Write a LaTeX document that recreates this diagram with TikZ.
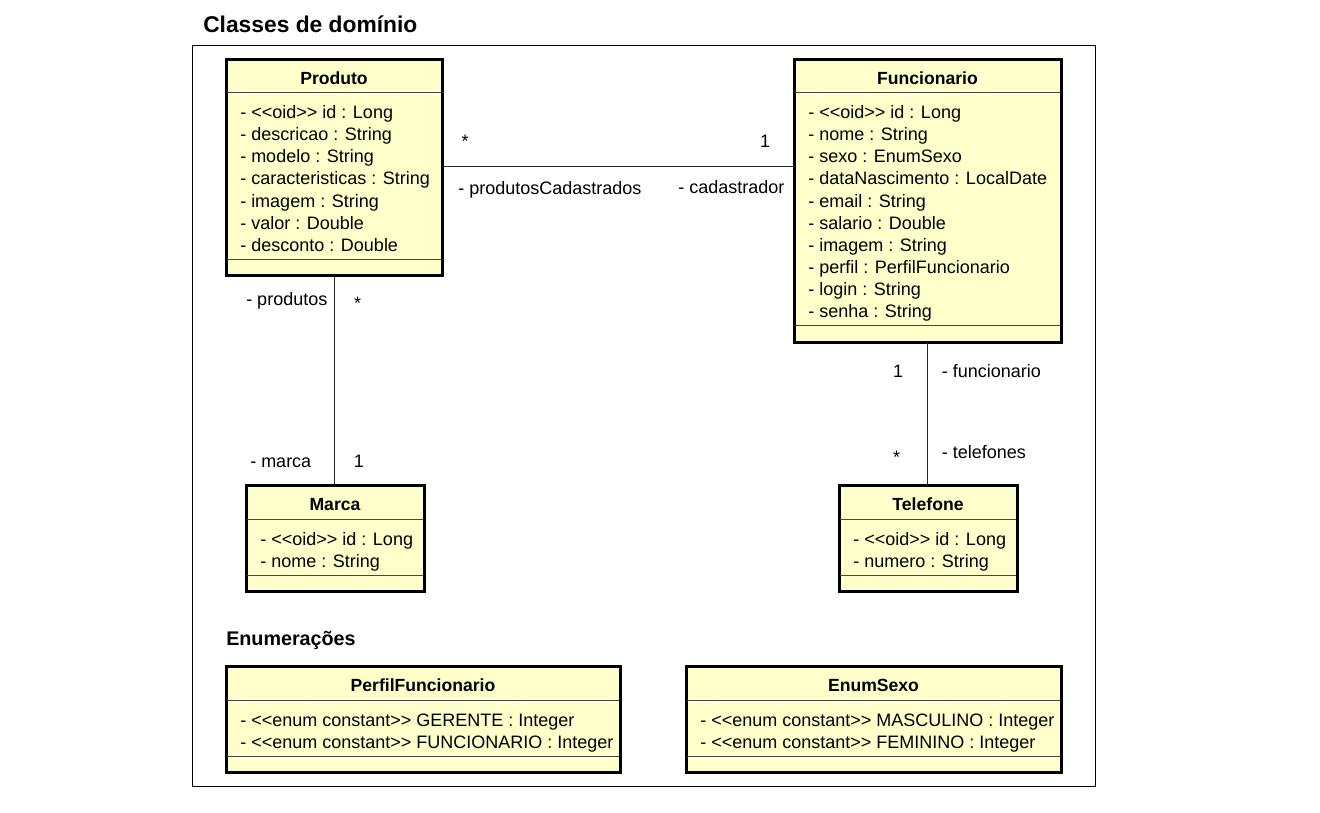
\documentclass[tikz,border=0pt]{standalone}
\usepackage{fontspec}
\setmainfont{Liberation Sans}[Ligatures=TeXOff]
\usetikzlibrary{fit}
\definecolor{classfill}{RGB}{255,255,204}
\definecolor{divgray}{RGB}{70,70,70}
\definecolor{linegray}{RGB}{40,40,40}
\tikzset{
  classbox/.style={draw=black, fill=classfill, line width=2.25pt, inner sep=0pt, outer sep=0pt},
  divider/.style={draw=divgray, line width=0.75pt},
  classtitle/.style={font=\fontsize{13.2}{16}\selectfont\bfseries, inner sep=0pt},
  attr/.style={font=\fontsize{13.5}{16.5}\selectfont, inner sep=0pt},
  lbl/.style={font=\fontsize{13.5}{16.5}\selectfont, inner sep=0pt},
  assoc/.style={draw=linegray, line width=0.75pt},
  pkgframe/.style={draw=black, line width=0.75pt, inner sep=0pt, outer sep=0pt}
}
% #1 name, #2 x1, #3 y1, #4 x2, #5 y2, #6 header divider y, #7 bottom divider y, #8 title, #9 attributes
\newcommand\umlclass[9]{%
  \node[classbox, fit={(#2,#3) (#4,#5)}] (#1) {};
  \draw[divider] ({#2+1.2},#6) -- ({#4-1.2},#6);
  \draw[divider] ({#2+1.2},#7) -- ({#4-1.2},#7);
  \node[classtitle, anchor=base] (#1-title) at ({(#2+#4)/2},{#3+25}) {#8};
  \foreach \t [count=\i] in {#9}
    \node[attr, anchor=base west] (#1-a\i) at ({#2+14},{#6+26+22*(\i-1)}) {\t};
}
\begin{document}
\begin{tikzpicture}[x=0.75pt, y=-0.75pt]
\useasboundingbox (0,0) rectangle (1320,813);
% package frame
\node[pkgframe, fit={(192.5,45.5) (1095.5,786.5)}] (pkg) {};
\node[anchor=base west, inner sep=0pt, font=\fontsize{17.1}{20}\selectfont\bfseries] (title) at (203,33) {Classes de domínio};
\node[anchor=base west, inner sep=0pt, font=\fontsize{14.8}{18}\selectfont\bfseries] (enumtitle) at (226,645) {Enumerações};

\umlclass{produto}{226}{60}{442}{275}{93}{259}{Produto}%
  {- <<oid>> id : Long, - descricao : String, - modelo : String, - caracteristicas : String, - imagem : String, - valor : Double, - desconto : Double}
\umlclass{funcionario}{794}{60}{1061}{342}{93}{325.5}{Funcionario}%
  {- <<oid>> id : Long, - nome : String, - sexo : EnumSexo, - dataNascimento : LocalDate, - email : String, - salario : Double, - imagem : String, - perfil : PerfilFuncionario, - login : String, - senha : String}
\umlclass{marca}{246}{485}{424}{591}{519}{575}{Marca}%
  {- <<oid>> id : Long, - nome : String}
\umlclass{telefone}{839}{485}{1017}{591}{519}{575}{Telefone}%
  {- <<oid>> id : Long, - numero : String}
\umlclass{perfil}{226}{666}{620}{772}{700}{756}{PerfilFuncionario}%
  {- <<enum constant>> GERENTE : Integer, - <<enum constant>> FUNCIONARIO : Integer}
\umlclass{enumsexo}{686}{666}{1061}{772}{700}{756}{EnumSexo}%
  {- <<enum constant>> MASCULINO : Integer, - <<enum constant>> FEMININO : Integer}

% associations
\coordinate (hline) at (0,166.5);
\draw[assoc] (produto.east |- hline) -- (funcionario.west |- hline);
\draw[assoc] (produto.south) -- (produto.south |- marca.north);
\draw[assoc] (funcionario.south) -- (funcionario.south |- telefone.north);

% labels
\node[lbl, anchor=base] (m1) at (465,147) {*};
\node[lbl, anchor=base west] (r1) at (458,195) {- produtosCadastrados};
\node[lbl, anchor=base] (m2) at (765,148) {1};
\node[lbl, anchor=base west] (r2) at (678,193.5) {- cadastrador};
\node[lbl, anchor=base west] (r3) at (246,305) {- produtos};
\node[lbl, anchor=base] (m3) at (357.5,309) {*};
\node[lbl, anchor=base west] (r4) at (250,467) {- marca};
\node[lbl, anchor=base] (m4) at (359,467) {1};
\node[lbl, anchor=base] (m5) at (898,377) {1};
\node[lbl, anchor=base west] (r5) at (941.5,377) {- funcionario};
\node[lbl, anchor=base] (m6) at (896.5,463.5) {*};
\node[lbl, anchor=base west] (r6) at (941.5,458) {- telefones};
\end{tikzpicture}
\end{document}
